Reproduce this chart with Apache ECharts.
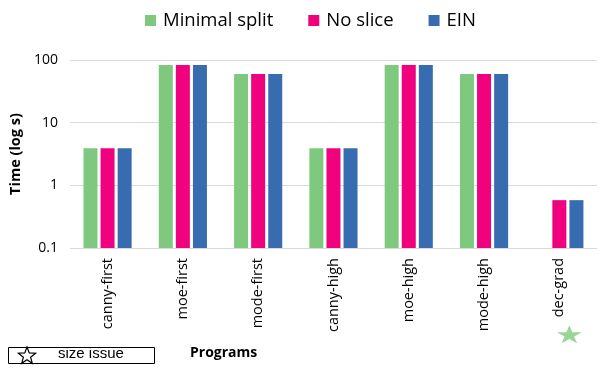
<!DOCTYPE html>
<html><head><meta charset="utf-8">
<script src="https://cdn.jsdelivr.net/npm/echarts@6/dist/echarts.min.js"></script>
<style>html,body{margin:0;padding:0;background:#fff}#c{width:609px;height:372px}</style>
</head><body><div id="c"></div>
<script>
const categories = ['canny-first','moe-first','mode-first','canny-high','moe-high','mode-high','dec-grad'];
const minimalSplit = [3.9, 83, 60, 3.9, 83, 60, null];
const noSlice = [3.9, 83, 60, 3.9, 83, 60, 0.58];
const ein = [3.9, 83, 60, 3.9, 83, 60, 0.58];
const yTicks = [0.1, 1, 10, 100];
const starMarks = [['dec-grad', 0.0042]];

const FONT = 'Open Sans';
const STAR = 'path://M50,0 L61.2,34.5 L97.6,34.5 L68.2,55.9 L79.4,90.5 L50,69.1 L20.6,90.5 L31.8,55.9 L2.4,34.5 L38.8,34.5 Z';
function starPoints(cx, cy, R, r) {
  const pts = [];
  for (let i = 0; i < 10; i++) {
    const a = -Math.PI / 2 + i * Math.PI / 5;
    const rr = i % 2 === 0 ? R : r;
    pts.push([cx + rr * Math.cos(a), cy + rr * Math.sin(a)]);
  }
  return pts;
}
const chart = echarts.init(document.getElementById('c'));
chart.setOption({
  animation: false,
  textStyle: {fontFamily: FONT},
  legend: {
    data: ['Minimal split','No slice','EIN'],
    top: 6, left: 140,
    itemWidth: 11, itemHeight: 11, itemGap: 35,
    icon: 'rect',
    textStyle: {fontSize: 18.5, color: '#000', fontFamily: FONT, padding: [0, 0, 0, 2]}
  },
  grid: {left: 66, right: 12, top: 60, bottom: 124},
  xAxis: {
    type: 'category', data: categories,
    axisLine: {show: false}, axisTick: {show: false},
    axisLabel: {rotate: 90, fontSize: 14.5, color: '#000', margin: 10, fontFamily: FONT}
  },
  yAxis: {
    type: 'log', logBase: 10, min: 0.1, max: 100, startValue: 0.1,
    name: 'Time (log s)', nameLocation: 'middle', nameGap: 43,
    nameTextStyle: {fontWeight: 'bold', fontSize: 14.5, color: '#000', fontFamily: FONT},
    axisLine: {show: false}, axisTick: {show: false},
    axisLabel: {fontSize: 14, color: '#000', margin: 12, fontFamily: FONT,
      formatter: v => { const t = yTicks.find(x => Math.abs(x - v) < 1e-6 * Math.max(1, v)); return t !== undefined ? String(t) : String(+v.toPrecision(3)); }},
    splitLine: {lineStyle: {color: '#d9d9d9', width: 1}}
  },
  series: [
    {name: 'Minimal split', type: 'bar', data: minimalSplit, barWidth: 14, barGap: '22%', itemStyle: {color: '#7fc97f'}},
    {name: 'No slice', type: 'bar', data: noSlice, barWidth: 14, barGap: '22%', itemStyle: {color: '#f0027f'}},
    {name: 'EIN', type: 'bar', data: ein, barWidth: 14, barGap: '22%', itemStyle: {color: '#386cb0'}},
    {name: 'star', type: 'scatter', data: starMarks, symbol: STAR, symbolSize: [25, 18], symbolOffset: [10, 0], clip: false, silent: true,
      itemStyle: {color: '#7fc97f'}}
  ],
  graphic: [
    {type: 'rect', shape: {x: 8.5, y: 347.5, width: 146, height: 16}, style: {fill: '#fff', stroke: '#000', lineWidth: 1}},
    {type: 'polygon', shape: {points: starPoints(27, 356, 9, 3.8)}, style: {fill: 'none', stroke: '#000', lineWidth: 1.2}},
    {type: 'text', left: 58, top: 346, style: {text: 'size issue', fontSize: 15, fill: '#000', fontFamily: 'Liberation Sans'}},
    {type: 'text', left: 190, top: 346, style: {text: 'Programs', fontSize: 14, fontWeight: 'bold', fill: '#000', fontFamily: FONT}}
  ]
});
</script>
</body></html>
